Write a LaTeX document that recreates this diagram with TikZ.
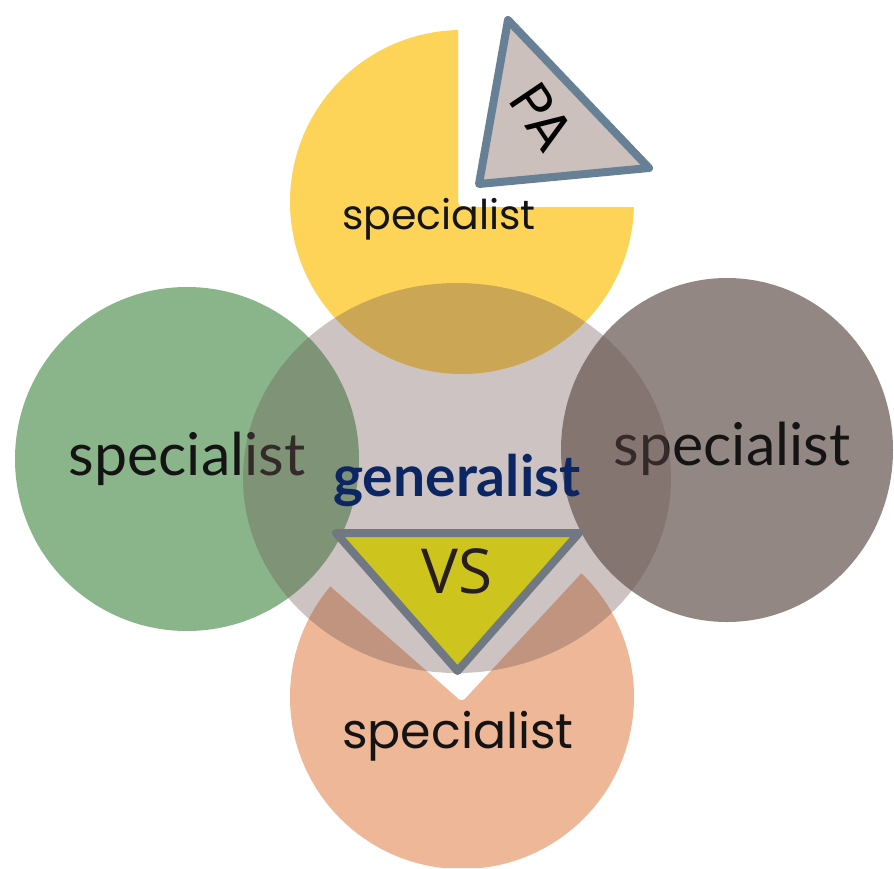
\documentclass[tikz,border=0pt]{standalone}
\usepackage{fontspec}
\newfontfamily\geofont{Poppins}
\newfontfamily\humfont{Lato}
\newfontfamily\vsfont{Open Sans}

\definecolor{spyellow}{RGB}{253,211,88}
\definecolor{spgreen}{RGB}{138,181,138}
\definecolor{spbrown}{RGB}{146,135,131}
\definecolor{sporange}{RGB}{237,183,152}
\definecolor{genfill}{RGB}{109,84,81}
\definecolor{gennavy}{RGB}{12,38,100}
\definecolor{triedge}{RGB}{104,128,150}
\definecolor{vsedge}{RGB}{112,121,131}
\definecolor{pafill}{RGB}{204,192,189}
\definecolor{vsfill}{RGB}{206,196,30}

\begin{document}
\begin{tikzpicture}[x=1pt,y=-1pt,
  spec/.style={inner sep=0pt,anchor=base,text=black!92},
  tri/.style={line width=8pt,line join=round}]
\useasboundingbox (0,0) rectangle (894,868);
\pgfmathsetmacro{\r}{172}

% top circle, corner taken out for the PA triangle
\begin{scope}
  \clip[rounded corners=5pt] (0,0) -- (458,0) -- (458,207) -- (894,207) -- (894,868) -- (0,868) -- cycle;
  \fill[spyellow] (462,202) circle (\r);
\end{scope}
\fill[spgreen] (187,459) circle (\r);
\fill[spbrown] (727,450) ellipse (166 and \r);
% bottom circle, wedge cut out under the VS triangle
\begin{scope}
  \clip[rounded corners=4pt] (462,702) -- (200,472) -- (200,868) -- (720,868) -- (720,424) -- cycle;
  \fill[sporange] (462,697) circle (\r);
\end{scope}

\node[spec,font=\humfont\fontsize{59}{59}\selectfont] (left) at (187,475) {specialist};
\node[spec,font=\humfont\fontsize{59}{59}\selectfont] (right) at (732,465) {specialist};

%%%%%%%%%%%%%%%%%%%%%%%%
% generalist in the middle
\fill[genfill, fill opacity=0.35] (457,478) ellipse (214 and 195);

\node[spec,font=\geofont\fontsize{41}{41}\selectfont] (top) at (439,229) {specialist};
\node[spec,font=\geofont\fontsize{49}{49}\selectfont] (bottom) at (458,748) {specialist};
\node[spec,text=gennavy,font=\humfont\bfseries\fontsize{57}{57}\selectfont] (gen) at (457,496) {generalist};

\draw[tri,draw=triedge,fill=pafill] (508,20) -- (649,168) -- (479,184) -- cycle;
\node[inner sep=0pt,rotate=-56,font=\geofont\fontsize{56}{56}\selectfont] (pa) at (542,117) {P\kern-3ptA};

\draw[tri,draw=vsedge,fill=vsfill] (336,533) -- (579,533) -- (457.5,671) -- cycle;
\node[spec,text={rgb,255:red,40;green,30;blue,30},font=\vsfont\fontsize{62}{62}\selectfont] (vs) at (457,593) {VS};

\end{tikzpicture}
\end{document}
